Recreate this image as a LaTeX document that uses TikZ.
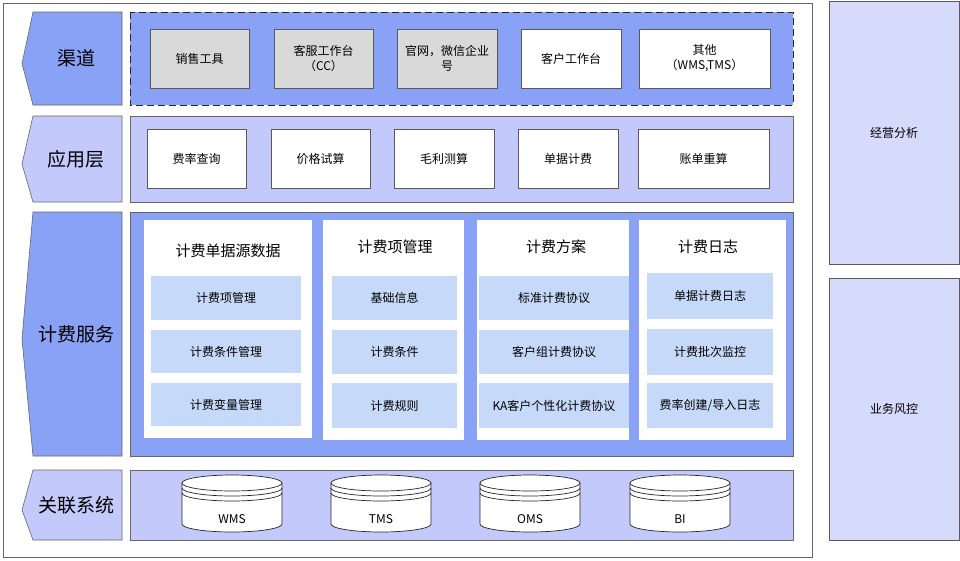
\documentclass[tikz,border=0pt]{standalone}
\usepackage{fontspec}
\setmainfont{Noto Sans CJK SC}
\begin{document}
\begin{tikzpicture}[x=1pt,y=-1pt,
 dk/.style={fill=cB,draw=gray!80!black,line width=0.6pt},
 lt/.style={fill=cL,draw=gray!80!black,line width=0.6pt},
 gb/.style={fill=gray!30,draw=gray!70!black,line width=0.6pt,align=center,font=\fontsize{12}{15}\selectfont},
 wb/.style={fill=white,draw=gray!70!black,line width=0.6pt,font=\fontsize{12}{15}\selectfont},
 col/.style={fill=white,draw=none},
 ib/.style={fill=cI,draw=none,font=\fontsize{12}{14}\selectfont},
 tt/.style={font=\fontsize{15}{17}\selectfont},
 lab/.style={font=\fontsize{19}{22}\selectfont},
 rp/.style={fill=cR,draw=gray!70!black,line width=0.6pt,font=\fontsize{12}{14}\selectfont}]
\definecolor{cB}{HTML}{8AA2F6}
\definecolor{cL}{HTML}{C3C9FA}
\definecolor{cI}{HTML}{C6D9F8}
\definecolor{cR}{HTML}{D6DAFB}
\useasboundingbox (0,0) rectangle (960,560);
\draw[gray!80!black,line width=0.8pt] (3,3) rectangle (812,557);
% tabs
\def\tab#1#2#3#4#5{\draw[#1] (33,#2) -- (122,#2) -- (122,#3) -- (33,#3) -- (22,{(#2+#3)/2+5}) -- cycle; \node[lab] (#5) at (76,{(#2+#3)/2}) {#4};}
\tab{dk}{12}{105}{渠道}{t1}
\tab{lt}{116}{202}{应用层}{t2}
\tab{dk}{212}{456}{计费服务}{t3}
\tab{lt}{470}{540}{关联系统}{t4}
% containers
\draw[fill=cB,draw=gray!30!black,dashed,dash pattern=on 7pt off 4pt,line width=1pt] (130,12) rectangle (793,105);
\draw[lt] (130,116) rectangle (793,202);
\draw[dk] (130,212) rectangle (793,456);
\draw[lt] (130,470) rectangle (793,540);
% channels
\node[gb,minimum width=99pt,minimum height=59pt] (c1) at (199.5,58.5) {销售工具};
\node[gb,minimum width=99pt,minimum height=59pt] (c2) at (323.5,58.5) {客服工作台\\（CC）};
\node[gb,minimum width=100pt,minimum height=59pt] (c3) at (447,58.5) {官网，微信企业\\号};
\node[wb,align=center,minimum width=100pt,minimum height=59pt] (c4) at (571,58.5) {客户工作台};
\node[wb,align=center,minimum width=131pt,minimum height=59pt] (c5) at (704.5,58.5) {其他\\（WMS,TMS）};
% apps
\node[wb,minimum width=99pt,minimum height=59pt] (a1) at (196.5,158.5) {费率查询};
\node[wb,minimum width=99pt,minimum height=59pt] (a2) at (320.5,158.5) {价格试算};
\node[wb,minimum width=100pt,minimum height=59pt] (a3) at (444,158.5) {毛利测算};
\node[wb,minimum width=100pt,minimum height=59pt] (a4) at (568,158.5) {单据计费};
\node[wb,minimum width=131pt,minimum height=59pt] (a5) at (703.5,158.5) {账单重算};
% service columns
\node[col,minimum width=168pt,minimum height=218pt] (s1) at (228,329) {};
\node[col,minimum width=141pt,minimum height=220pt] (s2) at (393.5,330) {};
\node[col,minimum width=152pt,minimum height=220pt] (s3) at (553,330) {};
\node[col,minimum width=147pt,minimum height=220pt] (s4) at (712.5,330) {};
\node[tt] (h1) at (228,251) {计费单据源数据};
\node[tt] (h2) at (395,247) {计费项管理};
\node[tt] (h3) at (556,247) {计费方案};
\node[tt] (h4) at (708,247) {计费日志};
\node[ib,minimum width=150pt,minimum height=44pt] (i11) at (226,298) {计费项管理};
\node[ib,minimum width=150pt,minimum height=43pt] (i12) at (226,351.5) {计费条件管理};
\node[ib,minimum width=150pt,minimum height=43pt] (i13) at (226,404.5) {计费变量管理};
\node[ib,minimum width=125pt,minimum height=44pt] (i21) at (394.5,298) {基础信息};
\node[ib,minimum width=125pt,minimum height=44pt] (i22) at (394.5,352) {计费条件};
\node[ib,minimum width=125pt,minimum height=45pt] (i23) at (394.5,405.5) {计费规则};
\node[ib,minimum width=150pt,minimum height=44pt] (i31) at (554,298) {标准计费协议};
\node[ib,minimum width=150pt,minimum height=44pt] (i32) at (554,352) {客户组计费协议};
\node[ib,minimum width=150pt,minimum height=45pt] (i33) at (554,405.5) {KA客户个性化计费协议};
\node[ib,minimum width=126pt,minimum height=46pt] (i41) at (710,296) {单据计费日志};
\node[ib,minimum width=126pt,minimum height=46pt] (i42) at (710,352) {计费批次监控};
\node[ib,minimum width=126pt,minimum height=45pt] (i43) at (710,405.5) {费率创建/导入日志};
% cylinders
\def\cyl#1#2#3{%
 \draw[fill=white,draw=gray!30!black,line width=0.7pt] (#1-50,483) -- (#1-50,524) arc[start angle=180,end angle=0,x radius=50,y radius=8] -- (#1+50,483) arc[start angle=0,end angle=-180,x radius=50,y radius=8];
 \draw[gray!30!black,line width=0.7pt] (#1-50,483) arc[start angle=180,end angle=0,x radius=50,y radius=8];
 \draw[gray!30!black,line width=0.7pt] (#1-50,488) arc[start angle=180,end angle=0,x radius=50,y radius=8];
 \draw[gray!30!black,line width=0.7pt] (#1-50,493) arc[start angle=180,end angle=0,x radius=50,y radius=8];
 \node[font=\fontsize{12}{14}\selectfont] (#3) at (#1,519) {#2};}
\cyl{232}{WMS}{d1}
\cyl{381}{TMS}{d2}
\cyl{530}{OMS}{d3}
\cyl{680}{BI}{d4}
% right panels
\node[rp,minimum width=130pt,minimum height=263pt] (r1) at (894,133) {经营分析};
\node[rp,minimum width=130pt,minimum height=262pt] (r2) at (894,409) {业务风控};
\end{tikzpicture}
\end{document}
